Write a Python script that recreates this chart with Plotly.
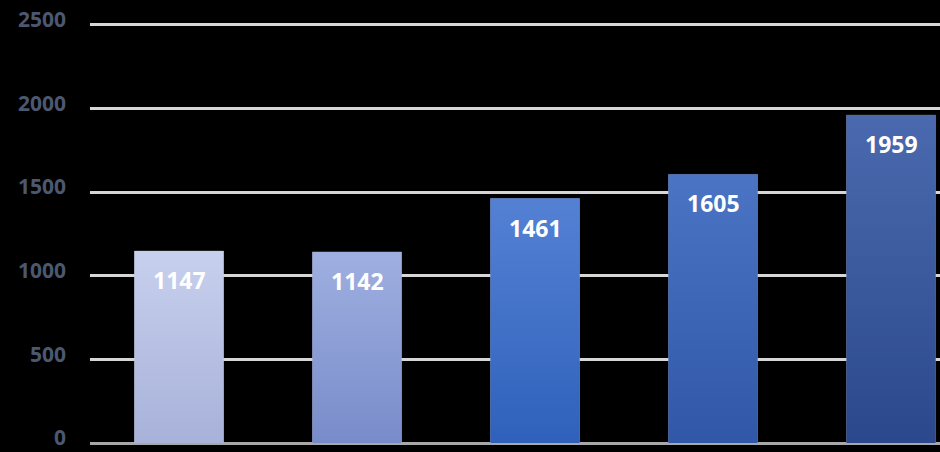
import plotly.graph_objects as go

categories = ["第1期", "第2期", "第3期", "第4期", "第5期"]
values = [1147, 1142, 1461, 1605, 1959]
top_colors = ["#c7d0ed", "#9fafe0", "#5481d4", "#4b74c4", "#4b69ae"]
bottom_colors = ["#a8b2da", "#788cca", "#2f61bb", "#3158a8", "#2b488c"]
mid_colors = ["#b8c1e4", "#8c9ed6", "#4171c6", "#3e66b6", "#3b599d"]
y_ticks = [0, 500, 1000, 1500, 2000, 2500]

positions = list(range(len(categories)))
half_w = 0.25

fig = go.Figure()

# base bars
fig.add_trace(go.Bar(
    x=positions, y=values, width=2 * half_w,
    marker=dict(color=mid_colors, line=dict(color="rgba(210,215,230,0.35)", width=1)),
    showlegend=False, hoverinfo="skip",
))

# gradient overlay for each bar, derived from the data values
for i, v in enumerate(values):
    fig.add_trace(go.Scatter(
        x=[i - half_w, i + half_w, i + half_w, i - half_w, i - half_w],
        y=[0, 0, v, v, 0],
        mode="lines", line=dict(width=0),
        fill="toself",
        fillgradient=dict(type="vertical", start=0, stop=v,
                          colorscale=[[0, bottom_colors[i]], [1, top_colors[i]]]),
        showlegend=False, hoverinfo="skip",
    ))

# value labels inside the bars
for i, v in enumerate(values):
    fig.add_annotation(
        x=i, y=v, text=f"<b>{v}</b>", showarrow=False,
        yanchor="middle", yshift=-29,
        font=dict(family="Open Sans", size=23, color="white"),
    )

fig.update_layout(
    width=940, height=452,
    margin=dict(l=90, r=0, t=23, b=9),
    paper_bgcolor="black", plot_bgcolor="black",
    bargap=0.5,
)
fig.update_xaxes(
    range=[-0.5, 4.275], showgrid=False, zeroline=False,
    tickvals=positions, ticktext=categories, showticklabels=False,
    showline=False, automargin=False,
)
fig.update_yaxes(
    range=[0, 2510], tickvals=y_ticks,
    showgrid=True, gridcolor="#d6d6d6", gridwidth=2.5,
    zeroline=True, zerolinecolor="#a8a8a8", zerolinewidth=3,
    tickfont=dict(family="Open Sans", size=21, color="#4b5870", weight="bold"),
    ticklabelstandoff=23, ticklabeloverflow="allow", automargin=False,
    ticklabelshift=-5,
)

fig.write_html(
    "out.html",
    config={"displayModeBar": False},
    post_script="document.body.style.margin='0';document.body.style.background='black';",
)
